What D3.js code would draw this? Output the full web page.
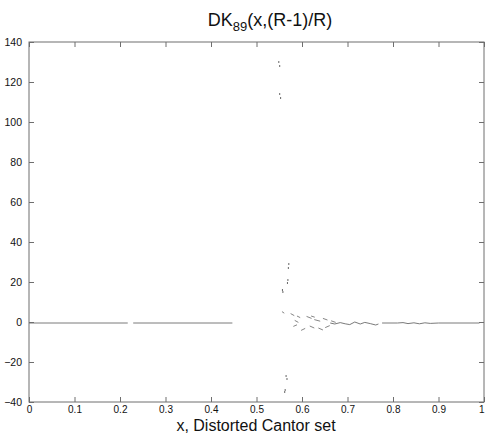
<!DOCTYPE html>
<html><head><meta charset="utf-8">
<script src="https://cdn.jsdelivr.net/npm/d3@7"></script>
<style>body{margin:0;background:#fff}svg{display:block}text{font-family:"Liberation Sans",Arial,sans-serif}</style>
</head><body><svg id="c" width="485" height="434"></svg>
<script>
const xTicks = [0,0.1,0.2,0.3,0.4,0.5,0.6,0.7,0.8,0.9,1];
const yTicks = [-40,-20,0,20,40,60,80,100,120,140];
const xTickLabels = ["0","0.1","0.2","0.3","0.4","0.5","0.6","0.7","0.8","0.9","1"];
// continuous pieces of the curve
const lineLeft1 = [[0,-0.5],[0.217,-0.5]];
const lineLeft2 = [[0.229,-0.5],[0.447,-0.5]];
const lineMid = [[0.662,-0.5],[0.672,-1.0],[0.684,-0.3],[0.695,-0.9],[0.705,-1.3],[0.716,0.0],[0.728,-1.0],[0.738,-0.2],[0.75,-0.8],[0.762,-1.5],[0.768,-1.0]];
const lineRight = [[0.776,-0.5],[0.81,-0.5],[0.822,-0.3],[0.833,-0.8],[0.846,-0.4],[0.858,-0.9],[0.87,-0.4],[0.882,-0.7],[0.9,-0.5],[0.99,-0.5]];
// short dashes in the unstable region: x1,y1,x2,y2
const dashes = [
 [0.556,5.2,0.561,4.4],[0.575,4.2,0.583,3.2],[0.589,3.0,0.596,2.2],
 [0.584,0.8,0.592,-0.2],[0.581,-2.2,0.589,-1.4],[0.598,-4.2,0.607,-3.2],
 [0.61,2.8,0.621,1.8],[0.617,-2.0,0.627,-3.0],[0.627,1.2,0.64,0.4],
 [0.636,-3.0,0.646,-4.0],[0.646,1.8,0.656,1.0],[0.651,-2.8,0.661,-1.8],
 [0.664,0.6,0.674,-0.2],[0.62,3.0,0.628,2.4]
];
// isolated spikes
const spikeX = [0.549,0.551,0.551,0.553,0.571,0.570,0.569,0.568,0.557,0.558,0.565,0.567,0.563,0.562];
const spikeY = [130,128,114,112,29,27,21,19.5,16,15,-27,-28.5,-34,-35];

const m = {l:29,r:484,t:42,b:402};
const svg = d3.select("#c");
const x = d3.scaleLinear().domain([0,1]).range([m.l,m.r]);
const y = d3.scaleLinear().domain([-40,140]).range([m.b,m.t]);
const axCol = "#6e6e6e";
const tl = 5;

const g = svg.append("g");
const line = d3.line().x(d=>x(d[0])).y(d=>y(d[1]));
[lineLeft1,lineLeft2,lineMid,lineRight].forEach(p=>{
  g.append("path").attr("d",line(p)).attr("fill","none").attr("stroke","#7a7a7a").attr("stroke-width",1);
});
g.selectAll(".dash").data(dashes).join("line")
 .attr("x1",d=>x(d[0])).attr("y1",d=>y(d[1])).attr("x2",d=>x(d[2])).attr("y2",d=>y(d[3]))
 .attr("stroke","#666").attr("stroke-width",0.8);
g.selectAll(".sp").data(spikeX.map((v,i)=>[v,spikeY[i]])).join("rect")
 .attr("x",d=>x(d[0])-0.5).attr("y",d=>y(d[1])-1).attr("width",1).attr("height",2).attr("fill","#666");

svg.append("rect").attr("x",m.l).attr("y",m.t).attr("width",m.r-m.l).attr("height",m.b-m.t)
 .attr("fill","none").attr("stroke",axCol).attr("stroke-width",1);
const bx = d3.axisBottom(x).tickValues(xTicks).tickSize(-tl).tickPadding(4).tickFormat((d,i)=>xTickLabels[i]);
const ax = svg.append("g").attr("transform",`translate(0,${m.b})`).call(bx);
const tx = d3.axisTop(x).tickValues(xTicks).tickSize(-tl).tickFormat("");
const at = svg.append("g").attr("transform",`translate(0,${m.t})`).call(tx);
const ly = d3.axisLeft(y).tickValues(yTicks).tickSize(-tl).tickPadding(7);
const al = svg.append("g").attr("transform",`translate(${m.l},0)`).call(ly);
const ry = d3.axisRight(y).tickValues(yTicks).tickSize(-tl).tickFormat("");
const ar = svg.append("g").attr("transform",`translate(${m.r},0)`).call(ry);
[ax,at,al,ar].forEach(a=>{
  a.select(".domain").remove();
  a.selectAll("line").attr("stroke",axCol);
  a.selectAll("text").attr("fill","#111").style("font-size","10.5px").style("font-family","'Liberation Sans',Arial,sans-serif");
});
ax.selectAll("text").style("font-size","10px");
al.selectAll("text").attr("dy","0.35em");
ax.selectAll("text").filter(d=>d===1).attr("text-anchor","end").attr("dx","0");

const t = svg.append("text").attr("x",270).attr("y",26).attr("text-anchor","middle").style("font-size","18px").attr("fill","#111");
t.append("tspan").text("DK");
t.append("tspan").attr("dy",5).style("font-size","13px").text("89");
t.append("tspan").attr("dy",-5).text("(x,(R-1)/R)");
svg.append("text").attr("x",256).attr("y",430.5).attr("text-anchor","middle").style("font-size","16px").attr("fill","#111").text("x, Distorted Cantor set");
</script></body></html>
